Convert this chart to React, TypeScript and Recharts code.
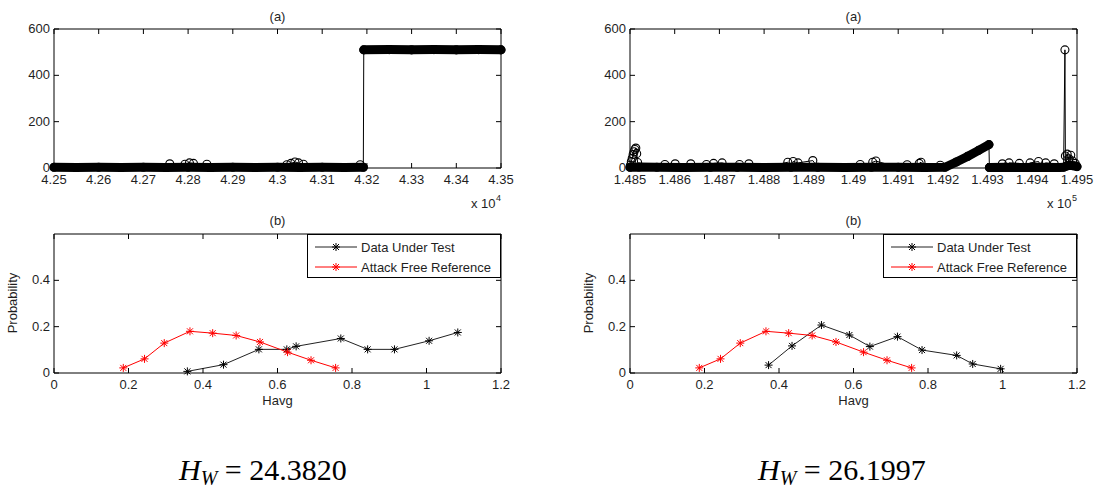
import React from 'react';
import { ComposedChart, Line, XAxis, YAxis, ReferenceLine, Legend } from 'recharts';

// ---------- data ----------
// (a) left : time stamps and values
const tlBand1Time = [42500, 42550, 42600, 42650, 42700, 42750, 42800, 42850, 42900, 42950, 43000, 43050, 43100, 43150, 43192];
const tlBand1Value = [3, 2, 3, 2, 3, 2, 3, 2, 3, 2, 3, 2, 3, 2, 3];
const tlBand2Time = [43193, 43250, 43300, 43350, 43400, 43450, 43500];
const tlBand2Value = [510, 511, 510, 511, 510, 511, 510];
const tlBumpTime = [42759, 42793, 42803, 42812, 42842, 43021, 43030, 43039, 43047, 43058, 43185];
const tlBumpValue = [18, 16, 22, 20, 16, 14, 20, 26, 22, 16, 14];
const tlXTicks = [42500, 42600, 42700, 42800, 42900, 43000, 43100, 43200, 43300, 43400, 43500];

// (a) right
const trBand1Time = [148500, 148520, 148560, 148620, 148680, 148740, 148800, 148860, 148920, 148980, 149040, 149100, 149160, 149205, 149230, 149255, 149280, 149303];
const trBand1Value = [3, 4, 3, 2, 3, 3, 2, 3, 3, 2, 3, 3, 2, 3, 26, 50, 76, 101];
const trBand2Time = [149304, 149340, 149380, 149420, 149460, 149470];
const trBand2Value = [2, 3, 2, 3, 2, 3];
const trBand3Time = [149476, 149484, 149492, 149500];
const trBand3Value = [8, 12, 10, 6];
const trBumpTime = [148501, 148503, 148505, 148507, 148509, 148511, 148513, 148515, 148517, 148578, 148601, 148636, 148671, 148687, 148706, 148745, 148766, 148853, 148865, 148876, 148909, 149015, 149043, 149050, 149120, 149147, 149151, 149194, 149333, 149348, 149371, 149395, 149414, 149430, 149449, 149473, 149474, 149478, 149482, 149486, 149490, 149496];
const trBumpValue = [12, 28, 42, 58, 70, 80, 86, 62, 24, 15, 18, 18, 15, 20, 22, 15, 18, 25, 28, 22, 32, 15, 25, 30, 14, 20, 25, 12, 18, 22, 20, 22, 28, 22, 18, 510, 52, 60, 40, 55, 30, 20];
const trXTicks = [148500, 148600, 148700, 148800, 148900, 149000, 149100, 149200, 149300, 149400, 149500];

const topYTicks = [0, 200, 400, 600];

// (b) left
const blTestX = [0.358, 0.455, 0.55, 0.625, 0.65, 0.77, 0.842, 0.914, 1.007, 1.084];
const blTestY = [0.007, 0.036, 0.102, 0.102, 0.115, 0.149, 0.102, 0.102, 0.139, 0.175];
// (b) right
const brTestX = [0.372, 0.435, 0.514, 0.589, 0.644, 0.718, 0.784, 0.877, 0.92, 0.995];
const brTestY = [0.034, 0.117, 0.207, 0.164, 0.114, 0.157, 0.099, 0.076, 0.039, 0.018];
// attack free reference (both)
const refX = [0.186, 0.243, 0.296, 0.365, 0.426, 0.489, 0.553, 0.627, 0.69, 0.756];
const refY = [0.022, 0.061, 0.129, 0.18, 0.172, 0.162, 0.134, 0.09, 0.055, 0.022];
const botXTicks = [0, 0.2, 0.4, 0.6, 0.8, 1, 1.2];
const botYTicks = [0, 0.2, 0.4];

const legendNames = ['Data Under Test', 'Attack Free Reference'];
const hwValues = ['24.3820', '26.1997'];

// ---------- helpers ----------
const FONT = '"Liberation Sans", Arial, Helvetica, sans-serif';
const TXT = '#1f1f1f';

type Row = Record<string, number>;
function buildRows(xKey: string, series: { key: string; x: number[]; y: number[] }[]): Row[] {
  const rows: Row[] = [];
  series.forEach((s) => s.x.forEach((xv, i) => rows.push({ [xKey]: xv, [s.key]: s.y[i] })));
  rows.sort((a, b) => a[xKey] - b[xKey]);
  return rows;
}

const tlRows = buildRows('t', [
  { key: 'band1', x: tlBand1Time, y: tlBand1Value },
  { key: 'band2', x: tlBand2Time, y: tlBand2Value },
  { key: 'trace', x: [...tlBand1Time, ...tlBand2Time, ...tlBumpTime], y: [...tlBand1Value, ...tlBand2Value, ...tlBumpValue] },
]);
const trRows = buildRows('t', [
  { key: 'band1', x: trBand1Time, y: trBand1Value },
  { key: 'band2', x: trBand2Time, y: trBand2Value },
  { key: 'band3', x: trBand3Time, y: trBand3Value },
  { key: 'trace', x: [...trBand1Time, ...trBand2Time, ...trBand3Time, ...trBumpTime], y: [...trBand1Value, ...trBand2Value, ...trBand3Value, ...trBumpValue] },
]);
const blRows = buildRows('h', [
  { key: 'test', x: blTestX, y: blTestY },
  { key: 'ref', x: refX, y: refY },
]);
const brRows = buildRows('h', [
  { key: 'test', x: brTestX, y: brTestY },
  { key: 'ref', x: refX, y: refY },
]);

const fmtT1 = (v: number) => String(+(v / 1e4).toFixed(4));
const fmtT2 = (v: number) => String(+(v / 1e5).toFixed(5));
const fmtB = (v: number) => String(+v.toFixed(1));
const fmtY = (v: number) => String(+v.toFixed(1));

const makeXTick = (fmt: (v: number) => string, plotTop: number) => (p: any) => {
  const { x, y, payload } = p;
  return (
    <g key={`xt-${payload.value}`}>
      <line x1={x} x2={x} y1={y} y2={y - 5} stroke="#000" />
      <line x1={x} x2={x} y1={plotTop} y2={plotTop + 5} stroke="#000" />
      <text x={x} y={y + 16} textAnchor="middle" fontSize={13} fontFamily={FONT} fill={TXT}>
        {fmt(payload.value)}
      </text>
    </g>
  );
};
const makeYTick = (fmt: (v: number) => string, plotRight: number) => (p: any) => {
  const { x, y, payload } = p;
  return (
    <g key={`yt-${payload.value}`}>
      <line x1={x} x2={x + 5} y1={y} y2={y} stroke="#000" />
      <line x1={plotRight - 5} x2={plotRight} y1={y} y2={y} stroke="#000" />
      <text x={x - 4} y={y + 4} textAnchor="end" fontSize={13} fontFamily={FONT} fill={TXT}>
        {fmt(payload.value)}
      </text>
    </g>
  );
};

const Star = ({ cx, cy, color }: { cx: number; cy: number; color: string }) => (
  <g stroke={color} strokeWidth={1}>
    <line x1={cx - 4} x2={cx + 4} y1={cy} y2={cy} />
    <line x1={cx} x2={cx} y1={cy - 4} y2={cy + 4} />
    <line x1={cx - 3} x2={cx + 3} y1={cy - 3} y2={cy + 3} />
    <line x1={cx - 3} x2={cx + 3} y1={cy + 3} y2={cy - 3} />
  </g>
);
const starDot = (color: string) => (p: any) => {
  if (p.cx == null || p.cy == null || p.value == null) return <g key={`e-${p.index}`} />;
  return <Star key={`s-${p.index}`} cx={p.cx} cy={p.cy} color={color} />;
};

// ---------- panels ----------
type TopProps = {
  left: number; width: number; plotLeft: number; plotRight: number;
  rows: Row[]; bands: string[]; xTicks: number[]; fmt: (v: number) => string;
};
const TopPanel = ({ left, width, plotLeft, plotRight, rows, bands, xTicks, fmt }: TopProps) => {
  const plotTop = 29;
  const height = 200;
  const xMin = xTicks[0];
  const xMax = xTicks[xTicks.length - 1];
  return (
    <div style={{ position: 'absolute', left, top: 0, width, height }}>
      <ComposedChart width={width} height={height} data={rows} margin={{ top: plotTop, right: left + width - plotRight, bottom: 0, left: 0 }}>
        <XAxis dataKey="t" type="number" domain={[xMin, xMax]} ticks={xTicks} interval={0} height={32}
          tickSize={0} tickMargin={0} tickLine={false} axisLine={{ stroke: '#000' }}
          tick={makeXTick(fmt, plotTop)} />
        <YAxis type="number" domain={[0, 600]} ticks={topYTicks} interval={0} width={plotLeft - left}
          tickSize={0} tickMargin={0} tickLine={false} axisLine={{ stroke: '#000' }}
          tick={makeYTick((v) => String(v), plotRight - left)} />
        <ReferenceLine y={600} stroke="#000" />
        <ReferenceLine x={xMax} stroke="#000" />
        {bands.map((b) => (
          <Line key={b} dataKey={b} type="linear" stroke="#000" strokeWidth={9} strokeLinecap="round" strokeLinejoin="round"
            dot={false} activeDot={false} connectNulls isAnimationActive={false} />
        ))}
        <Line dataKey="trace" type="linear" stroke="#000" strokeWidth={1} connectNulls activeDot={false}
          dot={{ r: 4, stroke: '#000', strokeWidth: 1.1, fill: 'none' }} isAnimationActive={false} />
      </ComposedChart>
    </div>
  );
};

const LegendBox = () => (
  <svg width={194} height={44} style={{ display: 'block' }}>
    <rect x={0.5} y={0.5} width={193} height={43} fill="#fff" stroke="#000" />
    <line x1={8} x2={50} y1={13} y2={13} stroke="#222" />
    <Star cx={29} cy={13} color="#000" />
    <text x={54} y={17.5} fontSize={13} fontFamily={FONT} fill={TXT}>{legendNames[0]}</text>
    <line x1={8} x2={50} y1={33} y2={33} stroke="#ff0000" />
    <Star cx={29} cy={33} color="#ff0000" />
    <text x={54} y={37.5} fontSize={13} fontFamily={FONT} fill={TXT}>{legendNames[1]}</text>
  </svg>
);

type BotProps = { left: number; width: number; plotLeft: number; plotRight: number; rows: Row[] };
const BottomPanel = ({ left, width, plotLeft, plotRight, rows }: BotProps) => {
  const plotTop = 34;
  const height = 210;
  return (
    <div style={{ position: 'absolute', left, top: 200, width, height }}>
      <ComposedChart width={width} height={height} data={rows} margin={{ top: plotTop, right: left + width - plotRight, bottom: 0, left: 0 }}>
        <XAxis dataKey="h" type="number" domain={[0, 1.2]} ticks={botXTicks} interval={0} height={37}
          tickSize={0} tickMargin={0} tickLine={false} axisLine={{ stroke: '#000' }}
          tick={makeXTick(fmtB, plotTop)} />
        <YAxis type="number" domain={[0, 0.6]} ticks={botYTicks} interval={0} width={plotLeft - left}
          tickSize={0} tickMargin={0} tickLine={false} axisLine={{ stroke: '#000' }}
          tick={makeYTick(fmtY, plotRight - left)} />
        <ReferenceLine y={0.6} stroke="#000" />
        <ReferenceLine x={1.2} stroke="#000" />
        <Line dataKey="test" type="linear" stroke="#222" strokeWidth={1} connectNulls activeDot={false}
          dot={starDot('#000')} isAnimationActive={false} />
        <Line dataKey="ref" type="linear" stroke="#ff0000" strokeWidth={1} connectNulls activeDot={false}
          dot={starDot('#ff0000')} isAnimationActive={false} />
        <Legend verticalAlign="middle" align="center" layout="horizontal" content={() => <LegendBox />}
          wrapperStyle={{ position: 'absolute', left: plotRight - 194 - left, top: plotTop, width: 194, height: 44 }} />
      </ComposedChart>
    </div>
  );
};

const Formula = ({ x, value }: { x: number; value: string }) => (
  <text x={x} y={480} fontFamily='"Liberation Serif", "Times New Roman", serif' fontSize={30} fill="#000">
    <tspan fontStyle="italic">H</tspan>
    <tspan fontStyle="italic" fontSize={20} dy={5}>W</tspan>
    <tspan dy={-5}>{` = ${value}`}</tspan>
  </text>
);

const Labels = () => {
  const centers = [277.5, 853.5];
  const lefts = [54, 630];
  const rights = [501, 1077];
  return (
    <svg width={1102} height={489} style={{ position: 'absolute', left: 0, top: 0, pointerEvents: 'none' }}>
      {centers.map((c, i) => (
        <g key={i} fontFamily={FONT} fill={TXT} fontSize={13}>
          <text x={c} y={21} textAnchor="middle">(a)</text>
          <text x={c} y={225} textAnchor="middle">(b)</text>
          <text x={c} y={405} textAnchor="middle">Havg</text>
          <text x={lefts[i] - 37} y={303} textAnchor="middle" transform={`rotate(-90 ${lefts[i] - 37} 303)`}>Probability</text>
          <text x={rights[i] - 30} y={208}>x 10</text>
          <text x={rights[i] - 5} y={201} fontSize={9}>{i === 0 ? '4' : '5'}</text>
        </g>
      ))}
      <Formula x={179} value={hwValues[0]} />
      <Formula x={758} value={hwValues[1]} />
    </svg>
  );
};

export default function App() {
  return (
    <div style={{ position: 'absolute', left: 0, top: 0, width: 1102, height: 489, background: '#fff', overflow: 'hidden' }}>
      <TopPanel left={0} width={540} plotLeft={54} plotRight={501} rows={tlRows} bands={['band1', 'band2']} xTicks={tlXTicks} fmt={fmtT1} />
      <TopPanel left={560} width={542} plotLeft={630} plotRight={1077} rows={trRows} bands={['band1', 'band2', 'band3']} xTicks={trXTicks} fmt={fmtT2} />
      <BottomPanel left={0} width={540} plotLeft={54} plotRight={501} rows={blRows} />
      <BottomPanel left={560} width={542} plotLeft={630} plotRight={1077} rows={brRows} />
      <Labels />
    </div>
  );
}
